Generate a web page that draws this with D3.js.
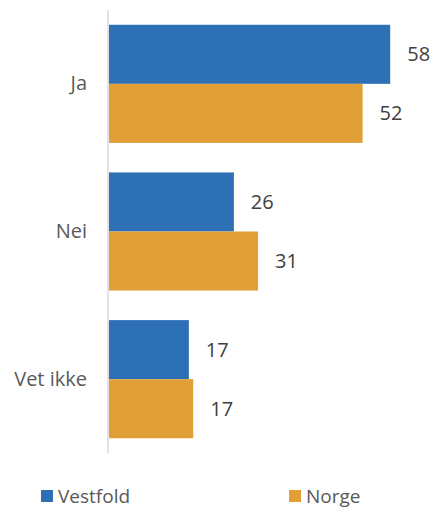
<!DOCTYPE html>
<html lang="no">
<head>
  <meta charset="UTF-8">
  <title>Bar Chart</title>
  <script src="https://d3js.org/d3.v7.min.js"></script>
  <style>
    body { margin: 0; background: #fff; }
    text { font-family: "Open Sans", Roboto, sans-serif; }
  </style>
</head>
<body>
<div class="main"></div>
<script>
  // data
  var categories = ["Ja", "Nei", "Vet ikke"];
  var seriesNames = ["Vestfold", "Norge"];
  var vestfold = [58.1, 25.8, 16.5];
  var norge = [52.4, 30.8, 17.4];
  var colors = ["#2E70B6", "#E0A037"];

  let width = 433, height = 509;
  let fontSize = "20px";

  let svg = d3.select(".main").append("svg")
          .attr("width", width)
          .attr("height", height);

  let yScale = d3.scaleBand().domain(categories).range([10, 453]).paddingInner(0.2).paddingOuter(0.1);
  let inner = d3.scaleBand().domain(seriesNames).range([0, yScale.bandwidth()]);
  let xScale = d3.scaleLinear().domain([0, 60]).range([109, 399.4]);

  let rows = [];
  categories.forEach(function (c, i) {
    rows.push({cat: c, s: "Vestfold", v: vestfold[i], col: colors[0]});
    rows.push({cat: c, s: "Norge", v: norge[i], col: colors[1]});
  });

  svg.selectAll("rect.bar")
          .data(rows)
          .join("rect")
          .attr("class", "bar")
          .attr("x", xScale(0))
          .attr("y", d => yScale(d.cat) + inner(d.s))
          .attr("width", d => xScale(d.v) - xScale(0))
          .attr("height", inner.bandwidth())
          .style("fill", d => d.col);

  // value labels
  svg.selectAll("text.val")
          .data(rows)
          .join("text")
          .attr("class", "val")
          .attr("x", d => xScale(d.v) + 17)
          .attr("y", d => yScale(d.cat) + inner(d.s) + inner.bandwidth() / 2)
          .attr("dy", "0.35em")
          .style("font-size", fontSize)
          .style("fill", "#404040")
          .text(d => Math.round(d.v));

  // category axis
  let yAxis = d3.axisLeft(yScale).tickSize(0).tickPadding(21);
  let ax = svg.append("g").attr("transform", "translate(108,0)").call(yAxis);
  ax.select(".domain").attr("d", "M0,10V453").style("stroke", "#d9d9d9").style("stroke-width", 1.5);
  ax.selectAll("text").style("font-size", fontSize).style("fill", "#595959").style("font-family", "\"Open Sans\", Roboto, sans-serif");

  // legend
  let legendX = [41, 289];
  let lg = svg.selectAll("g.leg").data(seriesNames).join("g")
          .attr("class", "leg")
          .attr("transform", (d, i) => `translate(${legendX[i]},490)`);
  lg.append("rect").attr("width", 12).attr("height", 12).style("fill", (d, i) => colors[i]);
  lg.append("text").attr("x", 17).attr("y", 6).attr("dy", "0.36em")
          .style("font-size", "19px").style("fill", "#595959").text(d => d);
</script>
</body>
</html>
